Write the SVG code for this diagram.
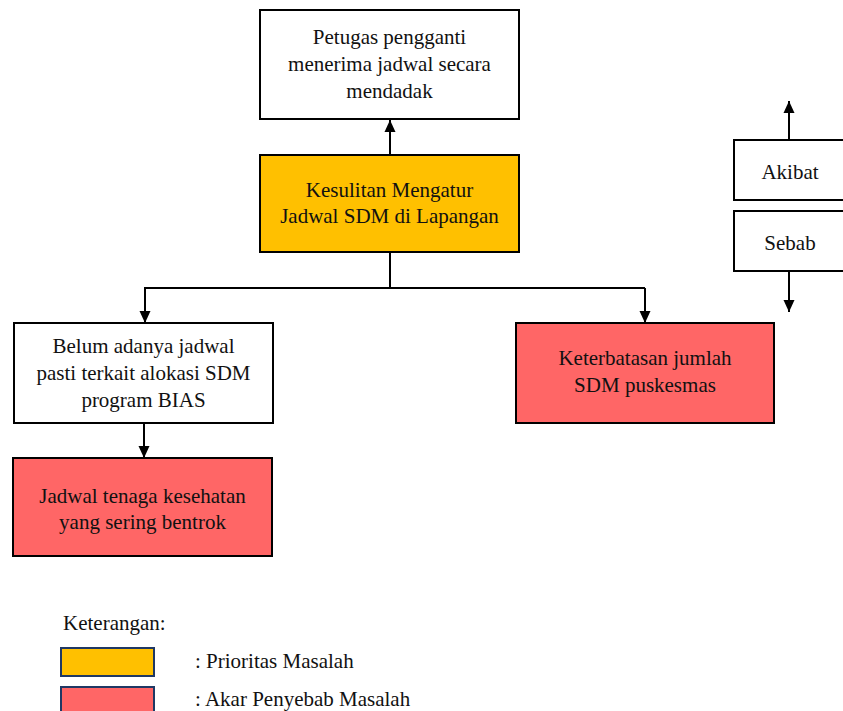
<svg xmlns="http://www.w3.org/2000/svg" width="843" height="711" viewBox="0 0 843 711" font-family="Liberation Serif, Times New Roman, serif">
<defs>
<style>
.box{stroke:#000;stroke-width:2}
.w{fill:#fff}
.o{fill:#FFC000}
.r{fill:#FF6666}
.sw{stroke:#1F3864;stroke-width:2}
text{font-size:21px;fill:#111}
.c{text-anchor:middle}
.ln{stroke:#000;stroke-width:2;fill:none}
</style>
<marker id="ah" markerUnits="userSpaceOnUse" markerWidth="12" markerHeight="12" viewBox="0 0 12 12" refX="12" refY="6" orient="auto">
<path d="M0,0.5 L12,6 L0,11.5 z" fill="#000"/>
</marker>
</defs>
<rect width="843" height="711" fill="#fff"/>
<g id="connectors">
<line class="ln" x1="390" y1="155" x2="390" y2="120" marker-end="url(#ah)"/>
<polyline class="ln" points="390,253 390,288"/>
<polyline class="ln" points="144,288 645,288"/>
<line class="ln" x1="145" y1="288" x2="145" y2="323" marker-end="url(#ah)"/>
<line class="ln" x1="645" y1="288" x2="645" y2="323" marker-end="url(#ah)"/>
<line class="ln" x1="144" y1="423" x2="144" y2="458" marker-end="url(#ah)"/>
<line class="ln" x1="789" y1="140" x2="789" y2="101" marker-end="url(#ah)"/>
<line class="ln" x1="789" y1="271" x2="789" y2="312" marker-end="url(#ah)"/>
</g>
<g id="node-akibat-top">
<rect class="box w" x="260" y="10" width="259" height="109"/>
<text class="c" x="389.5" y="44">Petugas pengganti</text>
<text class="c" x="389.5" y="71">menerima jadwal secara</text>
<text class="c" x="389.5" y="98">mendadak</text>
</g>
<g id="node-prioritas">
<rect class="box o" x="260" y="155" width="259" height="97"/>
<text class="c" x="389.5" y="197">Kesulitan Mengatur</text>
<text class="c" x="389.5" y="223">Jadwal SDM di Lapangan</text>
</g>
<g id="node-belum">
<rect class="box w" x="14" y="323" width="259" height="100"/>
<text class="c" x="143.5" y="353">Belum adanya jadwal</text>
<text class="c" x="143.5" y="380">pasti terkait alokasi SDM</text>
<text class="c" x="143.5" y="407">program BIAS</text>
</g>
<g id="node-jadwal">
<rect class="box r" x="13" y="458" width="259" height="98"/>
<text class="c" x="142.5" y="503">Jadwal tenaga kesehatan</text>
<text class="c" x="142.5" y="529">yang sering bentrok</text>
</g>
<g id="node-keterbatasan">
<rect class="box r" x="516" y="323" width="258" height="100"/>
<text class="c" x="645" y="365">Keterbatasan jumlah</text>
<text class="c" x="645" y="392">SDM puskesmas</text>
</g>
<g id="node-akibat">
<rect class="box w" x="734" y="140" width="120" height="60"/>
<text class="c" x="790" y="179">Akibat</text>
</g>
<g id="node-sebab">
<rect class="box w" x="734" y="211" width="120" height="60"/>
<text class="c" x="790" y="250">Sebab</text>
</g>
<g id="legend">
<text x="63" y="630">Keterangan:</text>
<rect class="sw o" x="61" y="648" width="93" height="28"/>
<text x="195" y="668">: Prioritas Masalah</text>
<rect class="sw r" x="61" y="687" width="93" height="30"/>
<text x="195" y="706">: Akar Penyebab Masalah</text>
</g>
</svg>
